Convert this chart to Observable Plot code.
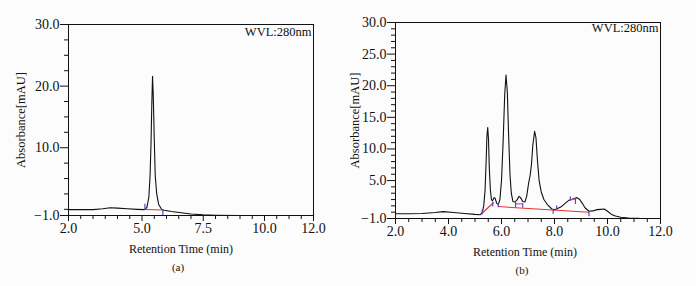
<!DOCTYPE html>
<html><head><meta charset="utf-8">
<script src="https://cdn.jsdelivr.net/npm/d3@7"></script>
<script src="https://cdn.jsdelivr.net/npm/@observablehq/plot@0.6"></script>
<style>
body{margin:0;background:#fcfcfc;}
#wrap{position:relative;width:696px;height:286px;overflow:hidden;}
#a,#b{position:absolute;top:0;}
#a{left:0;}#b{left:340px;}
.chrom g[aria-label="y-axis label"] text{font-size:12.5px;}
</style></head><body><div id="wrap"><div id="a"></div><div id="b"></div></div>
<script>
// ---- Panel (a) data ----
const timeA = [2.0,2.5,3.0,3.4,3.7,4.0,4.4,4.8,5.1,5.2,5.28,5.33,5.37,5.40,5.43,5.46,5.50,5.54,5.6,5.68,5.8,5.9,6.2,6.6,7.0,7.5,8.0,9.0,10.0,11.0,12.0];
const absA  = [-0.05,-0.05,-0.05,0.1,0.25,0.2,0.1,0.0,-0.05,0.3,2.0,5.5,11.0,17.0,21.6,18.5,11.5,5.5,2.5,0.8,0.0,-0.15,-0.35,-0.55,-0.75,-0.9,-0.95,-1.0,-1.0,-1.0,-1.0];
const baseA_t1 = [5.12], baseA_v1 = [-0.03], baseA_t2 = [5.85], baseA_v2 = [-0.1];
const markA_t = [5.12, 5.85], markA_lo = [-0.1, -0.9], markA_hi = [0.9, -0.1];
const xLabelsA = [2, 5, 7.5, 10, 12];
const yLabelsA = [-1, 10, 20, 30];
const yMinorA = [0, 2.5, 5, 7.5, 12.5, 15, 17.5, 22.5, 25, 27.5];

// ---- Panel (b) data ----
const timeB = [2.0,2.5,3.0,3.5,3.8,4.2,4.6,5.0,5.2,5.27,5.33,5.38,5.42,5.45,5.48,5.51,5.54,5.58,5.62,5.66,5.72,5.76,5.82,5.88,5.94,6.0,6.06,6.12,6.17,6.22,6.27,6.32,6.37,6.43,6.5,6.58,6.66,6.72,6.8,6.88,6.95,7.02,7.08,7.13,7.18,7.25,7.3,7.36,7.42,7.5,7.6,7.75,7.9,8.0,8.1,8.25,8.4,8.55,8.7,8.85,8.95,9.05,9.15,9.3,9.45,9.6,9.75,9.88,10.0,10.15,10.3,10.5,10.8,11.2,11.6,12.0];
const absB  = [-0.25,-0.25,-0.22,-0.05,0.08,-0.05,-0.2,-0.35,-0.4,-0.1,1.0,3.5,8.0,12.0,13.4,11.5,7.0,3.5,2.0,1.8,2.3,2.2,1.4,1.2,2.0,5.0,11.0,18.5,21.7,19.0,12.0,6.0,3.0,1.7,1.6,1.9,2.5,2.3,1.7,1.6,2.5,4.5,5.8,7.5,10.5,12.8,11.8,8.0,5.0,3.2,2.0,1.1,0.5,0.4,0.55,0.85,1.4,1.9,2.1,2.3,2.0,1.4,0.7,0.15,0.2,0.4,0.45,0.5,0.15,-0.35,-0.6,-0.8,-0.92,-0.98,-1.0,-1.0];
const baseB_t1 = [5.27, 5.86], baseB_v1 = [-0.17, 0.89], baseB_t2 = [5.71, 9.30], baseB_v2 = [1.57, 0.0];
const dropB_t1 = [6.53, 8.6], dropB_v1 = [1.31, 1.94], dropB_t2 = [6.8, 8.79], dropB_v2 = [1.31, 2.1];
const markB_t  = [5.27, 5.67, 5.88, 6.53, 6.8, 7.95, 8.08, 8.6, 8.79, 9.30];
const markB_lo = [-0.37, 0.94, 0.78, 0.78, 0.69, -0.26, 0.37, 1.83, 1.3, -0.64];
const markB_hi = [0.37, 1.57, 1.41, 1.57, 1.4, 0.5, 1.05, 2.46, 2.1, 0.15];
const xLabelsB = [2, 4, 6, 8, 10, 12];
const yLabelsB = [-1, 5, 10, 15, 20, 25, 30];
const yMinorB = d3.range(0, 30, 1).filter(v => v % 5 !== 0 || v === 0);

const panelTag = ["(a)", "(b)"];
const wvl = "WVL:280nm";

const fmt = d => (d < 0 ? "\u2212" : "") + Math.abs(d).toFixed(1);
const blank = () => "";
const toRows = (T, V) => T.map((t, i) => ({t, v: V[i]}));
const linkRows = (t1, v1, t2, v2) => t1.map((t, i) => ({t1: t, v1: v1[i], t2: t2[i], v2: v2[i]}));
const markRows = (T, lo, hi) => T.map((t, i) => ({t, lo: lo[i], hi: hi[i]}));

function chart(o) {
  const xMinor = d3.range(2, 12.001, 0.5).filter(v => !o.xLabels.includes(v));
  return Plot.plot({
    className: "chrom",
    width: o.width, height: 286,
    marginLeft: o.ml, marginRight: o.mr, marginTop: o.mt, marginBottom: o.mb,
    style: {fontFamily: "'Liberation Serif', serif", fontSize: "13px", background: "transparent", color: "#111"},
    x: {domain: [2, 12]},
    y: {domain: [-1, 30]},
    marks: [
      Plot.axisY({ticks: o.yLabels, tickFormat: fmt, tickSize: 8, tickPadding: 1, label: "Absorbance[mAU]", labelAnchor: "center", labelArrow: "none", labelOffset: o.ylo, fontSize: 14}),
      Plot.axisY({ticks: o.yMinor, tickFormat: blank, tickSize: 4, label: null}),
      Plot.axisX({ticks: o.xLabels, tickFormat: fmt, tickSize: 6, tickPadding: 2, label: null, fontSize: 14}),
      Plot.axisX({ticks: xMinor, tickFormat: blank, tickSize: 4, label: null}),
      Plot.frame({stroke: "#111"}),
      Plot.line(o.curve, {x: "t", y: "v", stroke: "#111", strokeWidth: 1.1, clip: true}),
      Plot.link(o.base, {x1: "t1", y1: "v1", x2: "t2", y2: "v2", stroke: "#e8302a", strokeWidth: 1.1}),
      Plot.link(o.drop, {x1: "t1", y1: "v1", x2: "t2", y2: "v2", stroke: "#d83a8a", strokeWidth: 1.1}),
      Plot.link(o.marks, {x1: "t", y1: "lo", x2: "t", y2: "hi", stroke: "#4a4ad0", strokeWidth: 1.2}),
      Plot.text([wvl], {frameAnchor: "top-right", dx: -2, dy: o.wdy, fontSize: 12.5, fill: "#111"}),
      Plot.text(["Retention Time (min)"], {frameAnchor: "bottom", dx: o.xdx, dy: 37, fontSize: 12, fill: "#111"}),
      Plot.text([o.tag], {frameAnchor: "bottom", dx: o.xdx - 3, dy: 55, fontSize: 11, fill: "#111"})
    ]
  });
}

document.getElementById("a").appendChild(chart({
  width: 340, ml: 68, mr: 27, mt: 24, mb: 71, ylo: 52, xdx: -10, wdy: 3,
  xLabels: xLabelsA, yLabels: yLabelsA, yMinor: yMinorA,
  curve: toRows(timeA, absA),
  base: linkRows(baseA_t1, baseA_v1, baseA_t2, baseA_v2),
  drop: [],
  marks: markRows(markA_t, markA_lo, markA_hi),
  tag: panelTag[0]
}));
document.getElementById("b").appendChild(chart({
  width: 356, ml: 55, mr: 36, mt: 22, mb: 68, ylo: 45, xdx: -3, wdy: 1,
  xLabels: xLabelsB, yLabels: yLabelsB, yMinor: yMinorB,
  curve: toRows(timeB, absB),
  base: linkRows(baseB_t1, baseB_v1, baseB_t2, baseB_v2),
  drop: linkRows(dropB_t1, dropB_v1, dropB_t2, dropB_v2),
  marks: markRows(markB_t, markB_lo, markB_hi),
  tag: panelTag[1]
}));
</script></body></html>
